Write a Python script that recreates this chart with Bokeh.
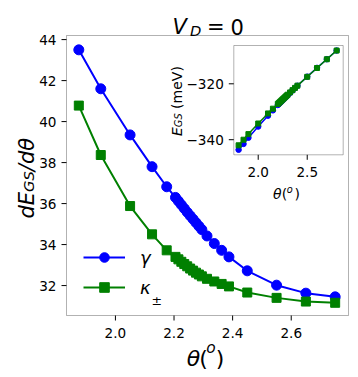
import math
from bokeh.plotting import figure
from bokeh.models import Range1d, Label, BoxAnnotation, Legend, LegendItem
from bokeh.core.properties import value
from bokeh.embed import file_html
from bokeh.resources import INLINE

# ---------------- data ----------------
# main panel: dE_GS/dtheta at mid angles
THETA_MID = [1.875, 1.95, 2.05, 2.125, 2.175,
             2.205, 2.215, 2.225, 2.235, 2.245, 2.255, 2.265, 2.275, 2.285, 2.295,
             2.3125, 2.3375, 2.3625, 2.3875, 2.45, 2.55, 2.65, 2.75]
DEDT_GAMMA = [43.5, 41.6, 39.35, 37.8, 36.82,
              36.3, 36.12, 35.94, 35.76, 35.58, 35.41, 35.24, 35.07, 34.9, 34.73,
              34.42, 34.05, 33.72, 33.4, 32.72, 32.02, 31.63, 31.45]
DEDT_KAPPA = [40.78, 38.37, 35.88, 34.5, 33.72,
              33.4, 33.28, 33.16, 33.05, 32.94, 32.83, 32.73, 32.63, 32.54, 32.45,
              32.33, 32.2, 32.08, 31.96, 31.66, 31.4, 31.22, 31.16]

# inset: E_GS (meV) vs theta
THETA = [1.8, 1.85, 1.9, 2.0, 2.1, 2.15, 2.2,
         2.21, 2.22, 2.23, 2.24, 2.25, 2.26, 2.27, 2.28, 2.29, 2.3,
         2.325, 2.35, 2.375, 2.4, 2.5, 2.6, 2.7, 2.8]
EGS_GAMMA = [-343.6, -341.5, -339.3, -335.3, -331.4, -329.5, -327.6,
             -327.24, -326.88, -326.52, -326.16, -325.81, -325.46, -325.11, -324.77, -324.43, -324.09,
             -323.23, -322.38, -321.54, -320.71, -317.45, -314.3, -311.2, -308.1]
EGS_KAPPA = [-342.0, -340.0, -338.0, -334.2, -330.6, -328.9, -327.2,
             -326.87, -326.54, -326.21, -325.88, -325.55, -325.22, -324.89, -324.56, -324.23, -323.9,
             -323.08, -322.27, -321.46, -320.66, -317.5, -314.35, -311.22, -308.1]

XTICKS = [2.0, 2.2, 2.4, 2.6]
XTICK_LABELS = ["2.0", "2.2", "2.4", "2.6"]
YTICKS = [32, 34, 36, 38, 40, 42, 44]
YTICK_LABELS = ["32", "34", "36", "38", "40", "42", "44"]
INSET_XTICKS = [2.0, 2.5]
INSET_XTICK_LABELS = ["2.0", "2.5"]
INSET_YTICKS = [-340, -320]
INSET_YTICK_LABELS = ["\u2212340", "\u2212320"]
SERIES_LABELS = ["\u03b3", "\u03ba"]

FONT = "DejaVu Sans"
TICK_FS = "13.6px"

# ---------------- layout (canvas pixels) ----------------
CW, CH = 356, 375
# main axes box and its data limits
MFL, MFT, MFR, MFB = 66.0, 35.0, 348.0, 315.0
X0, X1 = 1.833, 2.7955
Y0, Y1 = 30.54, 44.2
KX = (X1 - X0) / (MFR - MFL)
KY = (Y1 - Y0) / (MFB - MFT)
# inset axes box and its data limits
IL, IT, IR, IB = 233.3, 45.0, 342.7, 154.3
IX0, IX1 = 1.751, 2.867
IY0, IY1 = -345.4, -306.3
SX = (IX1 - IX0) / (IR - IL)
SY = (IY1 - IY0) / (IB - IT)
TICK = 5.0


def fx(px):
    return X0 + (px - MFL) * KX


def fy(py):
    return Y1 - (py - MFT) * KY


p = figure(width=CW, height=CH,
           x_range=Range1d(X0 - MFL * KX, X0 + (CW - MFL) * KX),
           y_range=Range1d(Y0 - (CH - MFB) * KY, Y1 + MFT * KY),
           x_axis_location=None, y_axis_location=None,
           output_backend="svg", toolbar_location=None, min_border=0)
p.extra_x_ranges = {"ix": Range1d(IX0 - IL * SX, IX1 + (CW - IR) * SX)}
p.extra_y_ranges = {"iy": Range1d(IY0 - (CH - IB) * SY, IY1 + IT * SY)}
p.xgrid.visible = False
p.ygrid.visible = False
p.outline_line_color = None
p.background_fill_color = "white"
p.border_fill_color = "white"

# ---------------- main axes frame, ticks, tick labels ----------------
p.add_layout(BoxAnnotation(left=X0, right=X1, bottom=Y0, top=Y1, level="underlay",
                           fill_color=None, line_color="black", line_width=1))
p.segment(x0=XTICKS, x1=XTICKS, y0=[Y0] * len(XTICKS), y1=[Y0 - TICK * KY] * len(XTICKS),
          line_color="black", line_width=1)
p.segment(x0=[X0] * len(YTICKS), x1=[X0 - TICK * KX] * len(YTICKS), y0=YTICKS, y1=YTICKS,
          line_color="black", line_width=1)
p.text(x=XTICKS, y=[Y0] * len(XTICKS), text=XTICK_LABELS,
       text_font=value(FONT), text_font_size=value(TICK_FS), text_color="black",
       text_align="center", text_baseline="top", y_offset=12)
p.text(x=[X0] * len(YTICKS), y=YTICKS, text=YTICK_LABELS,
       text_font=value(FONT), text_font_size=value(TICK_FS), text_color="black",
       text_align="right", text_baseline="middle", x_offset=-10)

# ---------------- main series ----------------
bl = p.line(THETA_MID, DEDT_GAMMA, color="blue", line_width=2)
bs = p.scatter(THETA_MID, DEDT_GAMMA, marker="circle", size=10, color="blue")
gl = p.line(THETA_MID, DEDT_KAPPA, color="green", line_width=2)
gs = p.scatter(THETA_MID, DEDT_KAPPA, marker="square", size=9, color="green")

legend = Legend(items=[LegendItem(label=SERIES_LABELS[0], renderers=[bl, bs]),
                       LegendItem(label=SERIES_LABELS[1], renderers=[gl, gs])],
                location=(83, CH - 315 + 16), glyph_width=42, glyph_height=24, label_height=24,
                spacing=6, padding=0, margin=0, border_line_alpha=0, background_fill_alpha=0,
                label_text_font=FONT, label_text_font_size="18px", label_text_font_style="italic",
                label_text_color="black", label_standoff=15)
p.add_layout(legend)

# ---------------- inset ----------------
p.add_layout(BoxAnnotation(left=IX0, right=IX1, bottom=IY0, top=IY1,
                           x_range_name="ix", y_range_name="iy", level="underlay",
                           fill_color="white", fill_alpha=1, line_color="black", line_width=1))
p.segment(x0=INSET_XTICKS, x1=INSET_XTICKS, y0=[IY0] * 2, y1=[IY0 - TICK * SY] * 2,
          x_range_name="ix", y_range_name="iy", line_color="black", line_width=1)
p.segment(x0=[IX0] * 2, x1=[IX0 - TICK * SX] * 2, y0=INSET_YTICKS, y1=INSET_YTICKS,
          x_range_name="ix", y_range_name="iy", line_color="black", line_width=1)
p.text(x=INSET_XTICKS, y=[IY0] * 2, text=INSET_XTICK_LABELS, x_range_name="ix", y_range_name="iy",
       text_font=value(FONT), text_font_size=value(TICK_FS), text_color="black",
       text_align="center", text_baseline="top", y_offset=12)
p.text(x=[IX0] * 2, y=INSET_YTICKS, text=INSET_YTICK_LABELS, x_range_name="ix", y_range_name="iy",
       text_font=value(FONT), text_font_size=value(TICK_FS), text_color="black",
       text_align="right", text_baseline="middle", x_offset=-10)

p.line(THETA, EGS_GAMMA, x_range_name="ix", y_range_name="iy", color="blue", line_width=1.5)
p.scatter(THETA, EGS_GAMMA, x_range_name="ix", y_range_name="iy", marker="circle", size=5.5, color="blue")
p.line(THETA, EGS_KAPPA, x_range_name="ix", y_range_name="iy", color="green", line_width=1.5)
p.scatter(THETA, EGS_KAPPA, x_range_name="ix", y_range_name="iy", marker="square", size=5, color="green")


# ---------------- text pieces ----------------
def lab(text, px, py, size, style="normal", angle=0.0):
    p.add_layout(Label(x=fx(px), y=fy(py), text=text, text_font=FONT,
                       text_font_size=f"{size}px", text_font_style=style, text_color="black",
                       angle=angle, text_align="left", text_baseline="alphabetic"))


R = math.pi / 2

# title  V_D = 0
lab("V", 172, 26.7, 21, "italic")
lab("D", 189.5, 29.5, 14.7, "italic")
lab("=", 206.6, 26.7, 21)
lab("0", 230, 26.7, 21)

# main y label  dE_GS/dθ
lab("dE", 26, 218, 21, "italic", R)
lab("GS", 28, 218 - 26.6, 14.7, "italic", R)
lab("/d\u03b8", 26, 218 - 26.6 - 20.7, 21, "italic", R)

# main x label  θ(°)
lab("\u03b8", 186.3, 358, 22, "italic")
lab("(", 198.8, 358, 22)
lab("o", 205.8, 347, 15.4, "italic")
lab(")", 215.3, 358, 22)

# legend subscript
lab("\u00b1", 151, 300, 12.6)

# inset y label  E_GS (meV)
lab("E", 176.7, 135.5, 14, "italic", R)
lab("GS", 178.2, 135.5 - 8.85, 9.8, "italic", R)
lab("(meV)", 176.7, 135.5 - 8.85 - 13.8 - 4.45, 14, "normal", R)

# inset x label  θ(°)
lab("\u03b8", 272.5, 193.3, 14, "italic")
lab("(", 281.3, 193.3, 14)
lab("o", 286.3, 188.5, 9.8, "italic")
lab(")", 294.0, 193.3, 14)

open("out.html", "w").write(file_html(p, INLINE))
